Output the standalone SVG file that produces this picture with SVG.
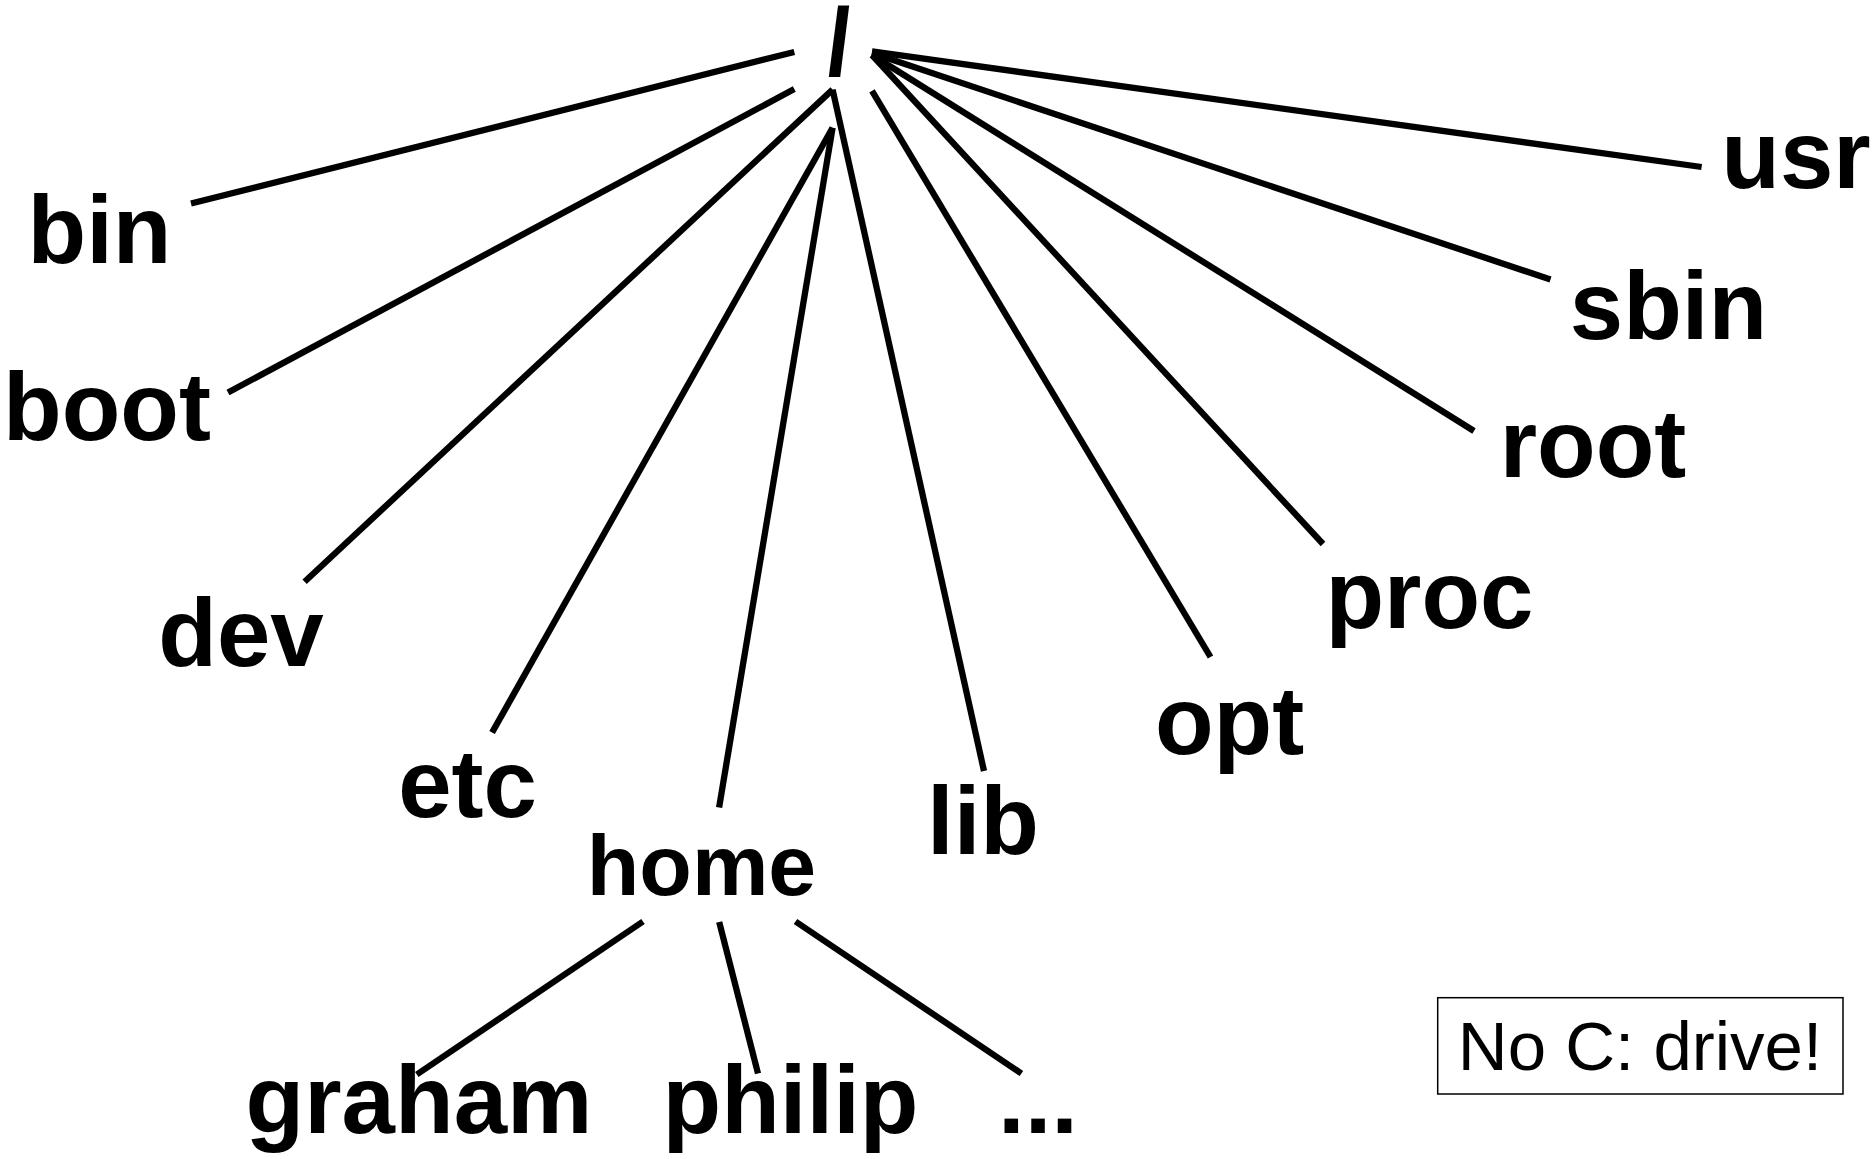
<svg xmlns="http://www.w3.org/2000/svg" width="1873" height="1159" viewBox="0 0 1873 1159">
<style>
.lbl{font-family:"Liberation Sans",Arial,sans-serif;font-weight:bold;font-size:96px;fill:#000;text-anchor:middle}
.home{font-size:86px}
.note{font-family:"Liberation Sans",Arial,sans-serif;font-size:69px;fill:#000;text-anchor:middle}
.edge{stroke:#000;stroke-width:6.3;fill:none;stroke-linecap:butt}
</style>
<rect width="1873" height="1159" fill="#fff"/>
<g id="connectors" class="edge">
<line x1="794.3" y1="52" x2="191" y2="203.5"/>
<line x1="794.3" y1="89" x2="228" y2="392.5"/>
<line x1="832.6" y1="89.6" x2="304.6" y2="581.7"/>
<line x1="832.6" y1="127.8" x2="492.1" y2="732.5"/>
<line x1="832.6" y1="127.8" x2="719.1" y2="807.5"/>
<line x1="832.6" y1="89.6" x2="984" y2="771"/>
<line x1="872" y1="90.8" x2="1210.5" y2="657"/>
<line x1="872" y1="55" x2="1323" y2="544"/>
<line x1="872" y1="55" x2="1474" y2="431"/>
<line x1="872" y1="53" x2="1550.5" y2="279.5"/>
<line x1="872" y1="51.4" x2="1701.6" y2="167"/>
<line x1="643" y1="921.5" x2="416.8" y2="1074.5"/>
<line x1="719.2" y1="922" x2="758" y2="1073.5"/>
<line x1="795.5" y1="921.5" x2="1021.4" y2="1073.5"/>
</g>
<g id="node-root-slash"><text class="lbl" transform="translate(841,74.7) skewX(3.5)">/</text></g>
<g id="node-bin"><text class="lbl" x="99.5" y="263">bin</text></g>
<g id="node-boot"><text class="lbl" x="107" y="439.5">boot</text></g>
<g id="node-dev"><text class="lbl" x="241" y="666">dev</text></g>
<g id="node-etc"><text class="lbl" x="467.6" y="817">etc</text></g>
<g id="node-home"><text class="lbl home" x="701.5" y="895">home</text></g>
<g id="node-lib"><text class="lbl" x="983" y="854">lib</text></g>
<g id="node-opt"><text class="lbl" x="1229.5" y="753.5">opt</text></g>
<g id="node-proc"><text class="lbl" x="1429.4" y="628">proc</text></g>
<g id="node-root"><text class="lbl" x="1593" y="477">root</text></g>
<g id="node-sbin"><text class="lbl" x="1668.5" y="338.5">sbin</text></g>
<g id="node-usr"><text class="lbl" x="1796" y="187.5">usr</text></g>
<g id="node-graham"><text class="lbl" x="419" y="1132.8">graham</text></g>
<g id="node-philip"><text class="lbl" x="790.5" y="1132.8">philip</text></g>
<g id="node-more"><text class="lbl" x="1038" y="1132.8">...</text></g>
<g id="note">
<rect x="1437.7" y="997.7" width="405.3" height="96.3" fill="#fff" stroke="#000" stroke-width="1.5"/>
<text class="note" x="1640" y="1070">No C: drive!</text>
</g>
</svg>
